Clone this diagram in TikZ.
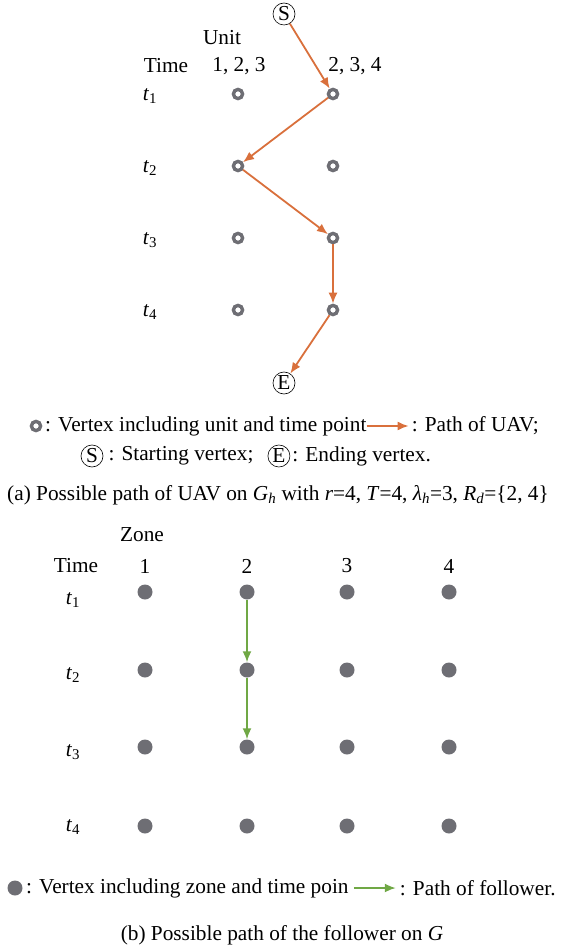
\documentclass[tikz,border=0pt]{standalone}
\usepackage{fontspec}
\setmainfont{Liberation Serif}
\usetikzlibrary{positioning,arrows.meta}

\definecolor{vgray}{RGB}{110,110,116}
\definecolor{uavor}{RGB}{217,112,60}
\definecolor{folgr}{RGB}{112,168,69}

\begin{document}
\begin{tikzpicture}[x=1pt,y=-1pt,every node/.style={font=\fontsize{21.3}{25}\selectfont, inner sep=0pt},
ring/.style={circle,draw=vgray,line width=3.4pt,fill=white,minimum size=9.2pt},
dot/.style={circle,fill=vgray,minimum size=15pt},
endpt/.style={circle,draw=black,line width=0.6pt,minimum size=22pt},
uavpath/.style={draw=uavor,line width=1.8pt,-{Latex[length=11pt,width=9pt]}},
folpath/.style={draw=folgr,line width=1.8pt,-{Latex[length=11pt,width=9pt]}}]
\useasboundingbox (0,0) rectangle (561,949);
% (a) UAV graph
\node[endpt] (S) at (284,14) {S};
\node (unit) at (222,38) {Unit};
\node (timeA) at (166,66) {Time};
\node (colA1) at (239,66) {1, 2, 3};
\node (colA2) at (355,66) {2, 3, 4};
\foreach \j/\y in {1/94,2/166,3/238,4/310} {
\node (tA\j) at (150,\y+2) {\textit{t}\textsubscript{\j}};
\node[ring] (a-1-\j) at (238,\y) {};
\node[ring] (a-2-\j) at (333,\y) {};
}
\node[endpt] (E) at (284,383) {E};
\draw[uavpath] (S) -- (a-2-1);
\draw[uavpath] (a-2-1) -- (a-1-2);
\draw[uavpath] (a-1-2) -- (a-2-3);
\draw[uavpath] (a-2-3) -- (a-2-4);
\draw[uavpath] (a-2-4) -- (E);
% legend (a)
\node[ring] (lgA) at (36,426) {};
\node[anchor=west] (lgAtxt) at (45,426) {: Vertex including unit and time point};
\coordinate[right=0pt of lgAtxt] (lgAa);
\coordinate[right=42pt of lgAa] (lgAb);
\draw[uavpath] (lgAa) -- (lgAb);
\node[right=3pt of lgAb] (lgApath) {: Path of UAV;};
\node[endpt] (lgS) at (92,456) {S};
\node[right=5pt of lgS] (lgStxt) {: Starting vertex;};
\node[endpt,right=14pt of lgStxt] (lgE) {E};
\node[right=2pt of lgE] (lgEtxt) {: Ending vertex.};
\node (capA) at (278,495) {(a) Possible path of UAV on \textit{G}\textsubscript{\textit{h}} with \textit{r}=4, \textit{T}=4, \textit{λ}\textsubscript{\textit{h}}=3, \textit{R}\textsubscript{\textit{d}}=\{2, 4\}};
% (b) follower graph
\node (zone) at (142,535) {Zone};
\node (timeB) at (76,566) {Time};
\foreach \i/\x in {1/145,2/247,3/347,4/449} {
\node (colB\i) at (\x,566) {\i};
\foreach \j/\y in {1/592,2/670,3/747,4/826} {
\node[dot] (b-\i-\j) at (\x,\y) {};
}}
\foreach \j/\y in {1/600,2/675,3/752,4/827} {
\node (tB\j) at (73,\y) {\textit{t}\textsubscript{\j}};
}
\draw[folpath] (b-2-1) -- (b-2-2);
\draw[folpath] (b-2-2) -- (b-2-3);
% legend (b)
\node[dot] (lgB) at (15,888) {};
\node[anchor=west] (lgBtxt) at (26,888) {: Vertex including zone and time poin};
\coordinate[right=5pt of lgBtxt] (lgBa);
\coordinate[right=42pt of lgBa] (lgBb);
\draw[folpath] (lgBa) -- (lgBb);
\node[right=4pt of lgBb] (lgBpath) {: Path of follower.};
\node (capB) at (282,935) {(b) Possible path of the follower on \textit{G}};
\end{tikzpicture}
\end{document}
